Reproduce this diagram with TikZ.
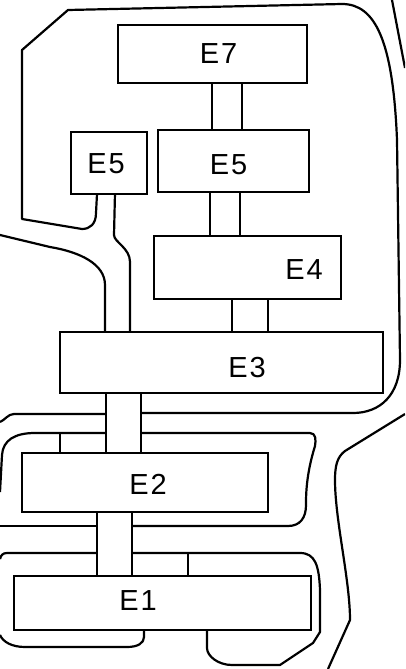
\documentclass[tikz,border=0pt]{standalone}
\usepackage{fontspec}
\setmainfont{Liberation Sans}[LetterSpace=7]
\begin{document}
\begin{tikzpicture}[x=1pt,y=-1pt,
  box/.style={draw,line width=1.9pt,inner sep=0pt,anchor=north west},
  lbl/.style={font=\fontsize{29}{32}\selectfont,inner sep=0pt,anchor=center},
  link/.style={line width=1.9pt},
  road/.style={line width=2.2pt,line join=round}]
\useasboundingbox (0,0) rectangle (405,669);
\clip (0,0) rectangle (405,669);
% boxes
\node[box,minimum width=189pt,minimum height=58pt] (e7) at (117,24) {};
\node[box,minimum width=151pt,minimum height=62pt] (e5b) at (157,129) {};
\node[box,minimum width=76pt,minimum height=62pt] (e5a) at (70,131) {};
\node[box,minimum width=187pt,minimum height=63pt] (e4) at (153,235) {};
\node[box,minimum width=323pt,minimum height=61pt] (e3) at (59,331) {};
\node[box,minimum width=246pt,minimum height=59pt] (e2) at (21,452) {};
\node[box,minimum width=297pt,minimum height=54pt] (e1) at (13,575) {};
% labels
\node[lbl] (t7) at (218.5,53.5) {E7};
\node[lbl] (t5a) at (106,164) {E5};
\node[lbl] (t5b) at (228.5,165) {E5};
\node[lbl] (t4) at (304,270) {E4};
\node[lbl] (t3) at (247,368) {E3};
\node[lbl] (t2) at (148,484.5) {E2};
\node[lbl] (t1) at (138,601) {E1};
% double-line links
\draw[link] ([xshift=-0.5pt]e7.south) -- ([xshift=-21.5pt]e5b.north);
\draw[link] ([xshift=29.5pt]e7.south) -- ([xshift=8.5pt]e5b.north);
\draw[link] ([xshift=-23.5pt]e5b.south) -- ([xshift=-37.5pt]e4.north);
\draw[link] ([xshift=6.5pt]e5b.south) -- ([xshift=-7.5pt]e4.north);
\draw[link] ([xshift=-15.5pt]e4.south) -- ([xshift=10.5pt]e3.north);
\draw[link] ([xshift=20.5pt]e4.south) -- ([xshift=46.5pt]e3.north);
\draw[link] ([xshift=-115.5pt]e3.south) -- ([xshift=-39pt]e2.north);
\draw[link] ([xshift=-80.5pt]e3.south) -- ([xshift=-4pt]e2.north);
\draw[link] ([xshift=-48pt]e2.south) -- ([xshift=-65.5pt]e1.north);
\draw[link] ([xshift=-13pt]e2.south) -- ([xshift=-30.5pt]e1.north);
% paths from small E5
\draw[road] ([xshift=-12pt]e5a.south) -- (96,213) .. controls (96,224) and (90,229) .. (82,229)
  -- (22,219) -- (22,50) -- (68,10) -- (342,4)
  .. controls (375,4) and (393,40) .. (397,140) -- (400,360)
  .. controls (400,395) and (380,413) .. (353,413) -- (142,413);
\draw[road] ([xshift=6pt]e5a.south) -- (114,235) .. controls (114,242) and (130,248) .. (130,262) -- ([xshift=71pt]e3.north west);
\draw[road] (0,235) -- (50,247) .. controls (80,252) and (105,264) .. (105,285) -- ([xshift=46pt]e3.north west);
\draw[road] (392,0) -- (405,68);
% left side around E2
\draw[road] (0,422) .. controls (5,420) and (8,414) .. (14,414) -- (106,414);
\draw[road] (0,492) -- (2,455) .. controls (3,440) and (15,433) .. (35,433) -- (106,433);
\draw[road] (60,433) -- ([xshift=39pt]e2.north west);
\draw[road] (142,433) -- (310,433) .. controls (316,433) and (316,440) .. (315,446)
  .. controls (306,475) and (306,495) .. (306,505) .. controls (306,518) and (300,526) .. (288,526) -- (132,526);
\draw[road] (0,526) -- (96,526);
\draw[road] (0,559) .. controls (1,555) and (3,553) .. (7,553) -- (96,553);
\draw[road] (188,553) -- ([xshift=175pt]e1.north west);
\draw[road] (132,553) -- (300,553) .. controls (315,553) and (319,565) .. (320,590)
  -- (320,632) -- (313,643) -- (280,665) -- (232,665) .. controls (218,665) and (207,656) .. (207,648) -- ([xshift=194pt]e1.south west);
\draw[road] ([xshift=131pt]e1.south west) -- (144,637) .. controls (144,643) and (138,647) .. (127,647)
  -- (25,647) .. controls (12,647) and (3,642) .. (0,635);
% outer right road
\draw[road] (405,414) -- (345,451) .. controls (337,457) and (335,466) .. (335,480)
  .. controls (335,520) and (350,580) .. (350,620) -- (328,669);
\end{tikzpicture}
\end{document}
